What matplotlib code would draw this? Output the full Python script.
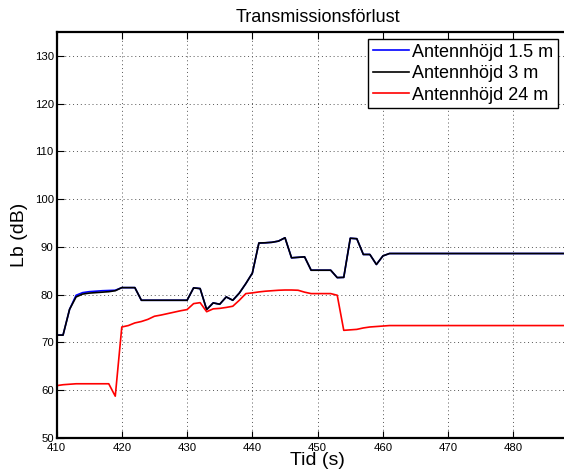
import matplotlib
matplotlib.use('Agg')
from matplotlib import pyplot as plt

plt.rcParams['font.family'] = ['Liberation Sans', 'DejaVu Sans']

tid = [410, 411, 412, 413, 414, 415, 416, 417, 418, 419, 420, 421, 422, 423,
       424, 425, 426, 427, 428, 429, 430, 431, 432, 433, 434, 435, 436, 437,
       438, 439, 440, 441, 442, 443, 444, 445, 446, 447, 448, 449, 450, 451,
       452, 453, 454, 455, 456, 457, 458, 459, 460, 461, 490]

lb_3m = [71.5, 71.5, 76.9, 79.5, 80.1, 80.3, 80.4, 80.5, 80.6, 80.8, 81.45, 81.45, 81.45, 78.8,
         78.8, 78.8, 78.8, 78.8, 78.8, 78.8, 78.8, 81.4, 81.25, 76.85, 78.25, 77.97, 79.5, 78.8,
         80.3, 82.3, 84.5, 90.8, 90.85, 90.95, 91.2, 91.9, 87.7, 87.8, 87.9, 85.1, 85.1, 85.1,
         85.1, 83.55, 83.6, 91.8, 91.7, 88.4, 88.4, 86.3, 88.1, 88.6, 88.6]

lb_15m = [71.5, 71.5, 76.9, 79.85, 80.4, 80.6, 80.7, 80.8, 80.85, 80.9, 81.45, 81.45, 81.45, 78.8,
          78.8, 78.8, 78.8, 78.8, 78.8, 78.8, 78.8, 81.4, 81.25, 76.85, 78.25, 77.97, 79.5, 78.8,
          80.3, 82.3, 84.5, 90.8, 90.85, 90.95, 91.2, 91.9, 87.7, 87.8, 87.9, 85.1, 85.1, 85.1,
          85.1, 83.55, 83.6, 91.8, 91.7, 88.4, 88.4, 86.3, 88.1, 88.6, 88.6]

lb_24m = [60.9, 61.1, 61.2, 61.3, 61.3, 61.3, 61.3, 61.3, 61.3, 58.7, 73.2, 73.5, 74.05, 74.35,
          74.8, 75.45, 75.7, 76.0, 76.3, 76.6, 76.85, 78.1, 78.3, 76.4, 77.0, 77.1, 77.3, 77.55,
          78.8, 80.2, 80.35, 80.55, 80.7, 80.8, 80.9, 80.95, 80.95, 80.9, 80.5, 80.2, 80.2, 80.2,
          80.2, 79.85, 72.5, 72.6, 72.7, 73.0, 73.2, 73.3, 73.4, 73.5, 73.5]

fig = plt.figure(figsize=(5.64, 4.76), dpi=100)
ax = fig.add_axes([0.1002, 0.0805, 0.926, 0.852])

ax.plot(tid, lb_15m, color='#0000ff', lw=1.2, label='Antennhöjd 1.5 m')
ax.plot(tid, lb_3m, color='black', lw=1.2, label='Antennhöjd 3 m')
ax.plot(tid, lb_24m, color='#ff0000', lw=1.2, label='Antennhöjd 24 m')

ax.set_xlim(410, 490)
ax.set_ylim(50, 135)
ax.set_xticks(range(410, 481, 10))
ax.set_yticks(range(50, 131, 10))
ax.grid(True, linestyle=(0, (1, 3)), color='#555555', lw=0.7)
ax.tick_params(direction='in', length=5, labelsize=8.2, top=True, right=True, pad=2)
ax.tick_params(axis='x', pad=4)
for s in ax.spines.values():
    s.set_linewidth(1.6)

ax.set_title('Transmissionsförlust', fontsize=13, pad=7)
ax.set_xlabel('Tid (s)', fontsize=14, labelpad=-1)
ax.set_ylabel('Lb (dB)', fontsize=14, labelpad=5)

leg = ax.legend(loc='upper left', bbox_to_anchor=(0.5964, 0.983), fontsize=13,
                fancybox=False, framealpha=1, edgecolor='black',
                borderpad=0.25, labelspacing=0.25, handlelength=2.0, handletextpad=0.2,
                borderaxespad=0)
leg.get_frame().set_linewidth(1.0)

plt.savefig('out.png', dpi=100)
